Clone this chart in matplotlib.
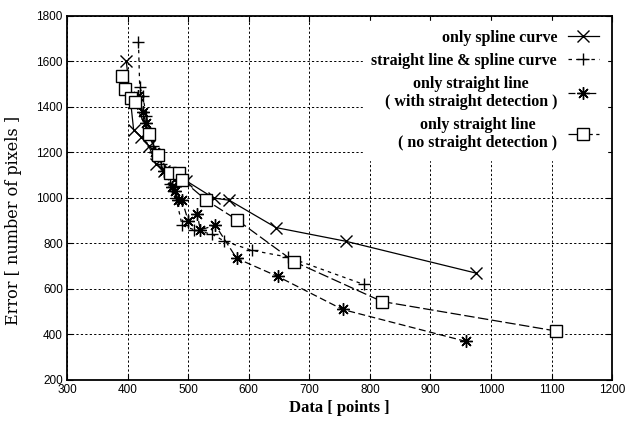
import matplotlib
matplotlib.use("Agg")
import matplotlib.pyplot as plt

plt.rcParams["lines.scale_dashes"] = False

# only spline curve
spline_x = [398, 410, 422, 435, 447, 460, 476, 497, 542, 568, 645, 760, 975]
spline_y = [1600, 1300, 1270, 1230, 1150, 1120, 1080, 1075, 1000, 990, 870, 810, 670]

# straight line & spline curve
mixed_x = [418, 420, 425, 431, 442, 456, 470, 480, 490, 510, 540, 560, 605, 665, 790]
mixed_y = [1685, 1490, 1450, 1360, 1230, 1150, 1060, 1000, 880, 860, 840, 810, 770, 740, 620]

# only straight line (with straight detection)
sdet_x = [418, 425, 430, 445, 460, 473, 478, 484, 490, 500, 515, 520, 545, 580, 648, 755, 958]
sdet_y = [1450, 1380, 1330, 1200, 1120, 1050, 1030, 990, 990, 900, 930, 860, 880, 735, 655, 510, 370]

# only straight line (no straight detection)
nodet_x = [390, 395, 405, 412, 435, 450, 470, 485, 490, 530, 580, 675, 820, 1108]
nodet_y = [1535, 1480, 1440, 1420, 1280, 1190, 1110, 1110, 1080, 990, 905, 720, 545, 415]

xticks = [300, 400, 500, 600, 700, 800, 900, 1000, 1100, 1200]
yticks = [200, 400, 600, 800, 1000, 1200, 1400, 1600, 1800]

serif = ["Liberation Serif", "DejaVu Serif"]
sans = ["Liberation Sans", "DejaVu Sans"]

fig = plt.figure(figsize=(6.26, 4.21), dpi=100)
ax = fig.add_axes([0.107, 0.0974, 0.871, 0.8646])

lw = 0.9
ax.plot(spline_x, spline_y, color="black", lw=lw, ls="-", marker="x", ms=8,
        mew=1.0, label="only spline curve")
ax.plot(mixed_x, mixed_y, color="black", lw=lw, ls=(0, (2.5, 3.0)), marker="+", ms=9,
        mew=1.0, label="straight line & spline curve")
ax.plot(sdet_x, sdet_y, color="black", lw=lw, ls=(0, (5, 2.5)), marker=(8, 2, 0), ms=9,
        mew=1.0, label="only straight line\n( with straight detection )")
ax.plot(nodet_x, nodet_y, color="black", lw=lw, ls=(0, (7.5, 2.5)), marker="s", ms=8,
        mfc="white", mew=1.0, label="only straight line\n( no straight detection )")

ax.set_xlim(300, 1200)
ax.set_ylim(200, 1800)
ax.set_xticks(xticks)
ax.set_yticks(yticks)
ax.grid(True, color="black", ls=(0, (1.6, 1.6)), lw=0.7)
ax.tick_params(direction="in", top=True, right=True, length=4, labelsize=8.5, pad=3)
for lab in ax.get_xticklabels() + ax.get_yticklabels():
    lab.set_fontfamily(sans)
for sp in ax.spines.values():
    sp.set_linewidth(1.3)

fig.text(339.5 / 626, 1 - 408 / 421, "Data [ points ]", ha="center", va="center",
         fontfamily=serif, fontweight="bold", fontsize=12)
fig.text(14 / 626, 1 - 220 / 421, "Error [ number of pixels ]", ha="center", va="center",
         rotation=90, fontfamily=["DejaVu Serif"], fontsize=11.5)

leg = ax.legend(loc="upper right", markerfirst=False, frameon=True, fancybox=False,
                edgecolor="white", facecolor="white", framealpha=1.0,
                prop={"family": serif, "weight": "bold", "size": 11.5},
                handlelength=1.9, handletextpad=0.7, labelspacing=0.45,
                borderaxespad=0.3, borderpad=0.55)
for t in leg.get_texts():
    t.set_multialignment("center")
    t.set_linespacing(1.15)

fig.savefig("out.png", dpi=100)
